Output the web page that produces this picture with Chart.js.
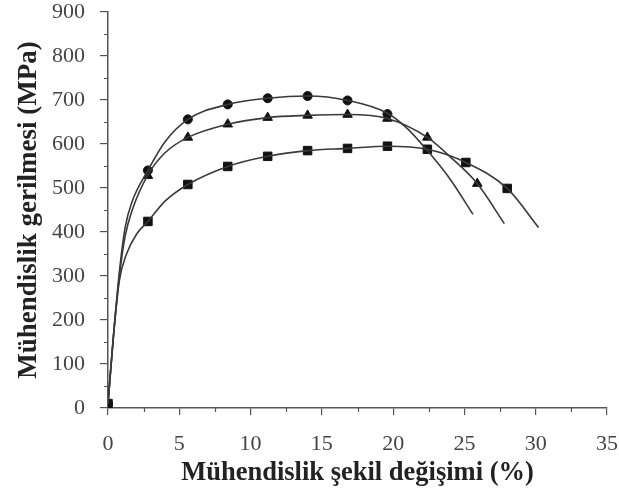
<!DOCTYPE html>
<html>
<head>
<meta charset="utf-8">
<script src="https://cdn.jsdelivr.net/npm/chart.js@4"></script>
<style>
  html, body { margin: 0; padding: 0; background: #fff; }
  #wrap { width: 619px; height: 497px; }
</style>
</head>
<body>
<div id="wrap"><canvas id="chart" width="619" height="497"></canvas></div>
<script>
// curves (strain %, stress MPa)
const circleCurveX = [0, 0.4, 0.8, 1.2, 1.7, 2.8, 4.0, 5.6, 8.4, 11.2, 14.0, 16.8, 19.6, 21.0, 22.4, 24.0, 25.6];
const circleCurveY = [10, 170, 310, 410, 470, 540, 605, 656, 690, 704, 709, 699, 670, 635, 585, 520, 440];
const triCurveX = [0, 0.4, 0.8, 1.2, 1.7, 2.8, 4.0, 5.6, 8.4, 11.2, 14.0, 16.8, 19.6, 22.4, 24.2, 25.9, 27.8];
const triCurveY = [10, 170, 300, 390, 450, 530, 580, 615, 645, 660, 665, 667, 658, 615, 565, 510, 419];
const sqCurveX = [0, 0.4, 0.8, 1.3, 2.0, 2.8, 4.0, 5.6, 8.4, 11.2, 14.0, 16.8, 19.6, 22.4, 25.1, 28.0, 30.2];
const sqCurveY = [10, 170, 290, 350, 395, 424, 470, 508, 549, 572, 585, 590, 595, 588, 558, 499, 410];

// marker points
const circleMarkX = [0, 2.8, 5.6, 8.4, 11.2, 14.0, 16.8, 19.6];
const circleMarkY = [10, 540, 656, 690, 704, 709, 699, 668];
const triMarkX = [2.8, 5.6, 8.4, 11.2, 14.0, 16.8, 19.6, 22.4, 25.9];
const triMarkY = [528, 615, 645, 660, 665, 667, 658, 615, 510];
const sqMarkX = [0, 2.8, 5.6, 8.4, 11.2, 14.0, 16.8, 19.6, 22.4, 25.1, 28.0];
const sqMarkY = [10, 424, 508, 549, 572, 585, 590, 595, 588, 558, 499];

const xTitle = "Mühendislik şekil değişimi (%)";
const yTitle = "Mühendislik gerilmesi (MPa)";

const pts = (xs, ys) => xs.map((x, i) => ({ x: x, y: ys[i] }));

const lineStyle = {
  showLine: true,
  borderColor: "#3a3a3a",
  borderWidth: 1.6,
  pointRadius: 0,
  cubicInterpolationMode: "monotone",
  fill: false
};
const markStyle = {
  showLine: false,
  backgroundColor: "#111",
  borderColor: "#111",
  borderWidth: 1
};

// short minor ticks between the labelled ones
const minorTicks = {
  id: "minorTicks",
  afterDraw(chart) {
    const { ctx, scales: { x, y } } = chart;
    ctx.save();
    ctx.strokeStyle = "#555";
    ctx.lineWidth = 1.2;
    ctx.beginPath();
    for (let v = 2.5; v < 35; v += 5) {
      const px = Math.round(x.getPixelForValue(v)) + 0.5;
      ctx.moveTo(px, x.top);
      ctx.lineTo(px, x.top + 4);
    }
    for (let v = 50; v < 900; v += 100) {
      const py = Math.round(y.getPixelForValue(v)) + 0.5;
      ctx.moveTo(y.right, py);
      ctx.lineTo(y.right - 4, py);
    }
    ctx.stroke();
    ctx.restore();
  }
};

new Chart(document.getElementById("chart"), {
  type: "scatter",
  data: {
    datasets: [
      Object.assign({ data: pts(circleCurveX, circleCurveY) }, lineStyle),
      Object.assign({ data: pts(triCurveX, triCurveY) }, lineStyle),
      Object.assign({ data: pts(sqCurveX, sqCurveY) }, lineStyle),
      Object.assign({ data: pts(circleMarkX, circleMarkY), pointStyle: "circle", pointRadius: 4.5 }, markStyle),
      Object.assign({ data: pts(triMarkX, triMarkY), pointStyle: "triangle", pointRadius: 5.5 }, markStyle),
      Object.assign({ data: pts(sqMarkX, sqMarkY), pointStyle: "rect", pointRadius: 6 }, markStyle)
    ]
  },
  options: {
    responsive: false,
    animation: false,
    layout: { padding: { left: 0, top: 12, right: 12, bottom: 8 } },
    plugins: { legend: { display: false }, tooltip: { enabled: false } },
    scales: {
      x: {
        type: "linear",
        min: 0,
        max: 35,
        ticks: { stepSize: 5, color: "#444", padding: 16, font: { family: "Liberation Serif", size: 22 } },
        grid: { drawOnChartArea: false, tickLength: 7, color: "#555", lineWidth: 1.2 },
        border: { color: "#555", width: 1.5 },
        title: { display: true, text: xTitle, color: "#222", padding: { top: 0, bottom: 0 },
                 font: { family: "Liberation Serif", size: 26.5, weight: "bold" } },
        afterFit(s) { s.height = 81; s.paddingLeft = 0; s.paddingRight = 0; }
      },
      y: {
        type: "linear",
        min: 0,
        max: 900,
        ticks: { stepSize: 100, color: "#444", padding: 15, font: { family: "Liberation Serif", size: 22 } },
        grid: { drawOnChartArea: false, tickLength: 8, color: "#555", lineWidth: 1.2 },
        border: { color: "#555", width: 1.5 },
        title: { display: true, text: yTitle, color: "#222", padding: { top: 13, bottom: 0 },
                 font: { family: "Liberation Serif", size: 27, weight: "bold" } },
        afterFit(s) { s.width = 108; s.paddingTop = 0; s.paddingBottom = 0; }
      }
    }
  },
  plugins: [minorTicks]
});
</script>
</body>
</html>
